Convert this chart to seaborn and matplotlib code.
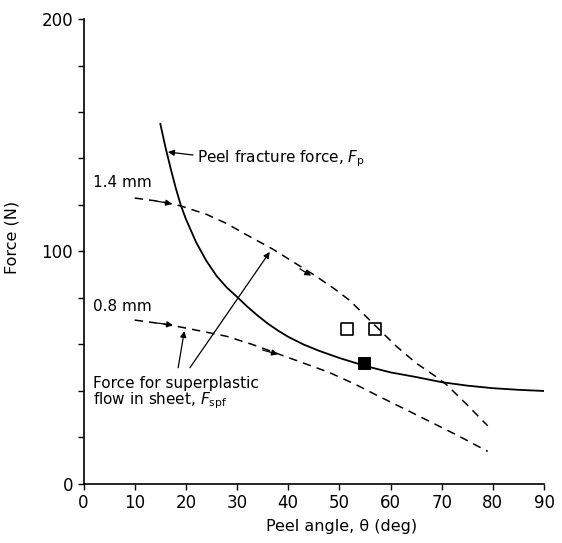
import seaborn as sns
import matplotlib.pyplot as plt

# peel fracture force, F_p (solid curve)
theta_fp = [15, 16, 17, 18, 19, 20, 22, 24, 26, 28, 30, 32, 34, 36, 38, 40, 43, 46,
            50, 55, 60, 65, 70, 75, 80, 85, 90]
force_fp = [155, 145, 136, 127.5, 120, 114, 104, 96, 89.5, 84.5, 80.5, 76.3, 72.5, 69,
            66, 63.3, 60, 57.3, 54.2, 50.8, 48, 46, 43.8, 42.3, 41.2, 40.5, 40]

# force for superplastic flow, 1.4 mm sheet (dashed)
theta_14 = [10, 15, 19, 24, 28, 32, 37, 41, 45, 49, 52, 55, 58, 61, 65, 69, 71, 75, 79]
force_14 = [123, 121.5, 119.6, 116, 112, 107, 101, 95.5, 90, 84, 79, 72.5, 66, 59.5,
            52, 46, 42.6, 34, 25]

# force for superplastic flow, 0.8 mm sheet (dashed)
theta_08 = [10, 15, 19, 24, 28, 33, 38, 43, 48, 53, 58, 63, 68, 73, 79]
force_08 = [70.5, 69, 67.5, 65.3, 63.5, 60, 56, 52, 48, 43, 37.4, 32, 26.5, 21, 14]

# measured points
open_theta = [51.5, 56.9]
open_force = [66.6, 66.6]
filled_theta = [54.8]
filled_force = [52]

x_ticks = list(range(0, 91, 10))
y_ticks = list(range(0, 201, 20))
y_labels = ["0", "", "", "", "", "100", "", "", "", "", "200"]

sns.set_style("ticks")
plt.rcParams["font.family"] = ["DejaVu Sans"]
plt.rcParams["mathtext.fontset"] = "dejavusans"
plt.rcParams["text.color"] = "black"
plt.rcParams["axes.labelcolor"] = "black"

fig = plt.figure(figsize=(5.62, 5.43), dpi=100)
ax = fig.add_axes([0.1486, 0.1087, 0.8194, 0.8563])

sns.lineplot(x=theta_fp, y=force_fp, color="black", lw=1.3, ax=ax)
sns.lineplot(x=theta_14, y=force_14, color="black", lw=1.1, linestyle=(0, (5.5, 4)), ax=ax)
sns.lineplot(x=theta_08, y=force_08, color="black", lw=1.1, linestyle=(0, (5.5, 4)), ax=ax)

sns.scatterplot(x=open_theta, y=open_force, marker="s", s=70, facecolor="white",
                edgecolor="black", linewidth=1.2, ax=ax)
sns.scatterplot(x=filled_theta, y=filled_force, marker="s", s=75, color="black",
                edgecolor="black", ax=ax)

ax.set_xlim(0, 90)
ax.set_ylim(0, 200)
ax.set_xticks(x_ticks)
ax.set_yticks(y_ticks)
ax.set_yticklabels(y_labels)
ax.tick_params(direction="out", length=4, width=1, labelsize=12, colors="black")
for s in ["left", "bottom"]:
    ax.spines[s].set_linewidth(1.2)
    ax.spines[s].set_color("black")
sns.despine(ax=ax)

ax.set_xlabel(r"Peel angle, θ (deg)", fontsize=11.5)
ax.xaxis.set_label_coords(0.56, -0.075)
ax.set_ylabel("Force (N)", fontsize=11.5)
ax.yaxis.set_label_coords(-0.14, 0.53)

# labels
ax.text(22.2, 140, r"Peel fracture force, $F_\mathrm{p}$", fontsize=11, va="center")
ax.text(1.9, 129.5, "1.4 mm", fontsize=11, va="center")
ax.text(1.9, 76.5, "0.8 mm", fontsize=11, va="center")
ax.text(1.9, 39, "Force for superplastic\nflow in sheet, $F_\\mathrm{spf}$", fontsize=11,
        va="center", linespacing=1.0)

arrow = dict(arrowstyle="-|>", color="black", lw=0.9, mutation_scale=9, shrinkA=0, shrinkB=0)

# pointer arrows
ax.annotate("", xy=(16.5, 142.8), xytext=(21.4, 141.5), arrowprops=arrow)
ax.annotate("", xy=(19.7, 65.8), xytext=(18.5, 50), arrowprops=arrow)
ax.annotate("", xy=(36.4, 99.8), xytext=(20.8, 50), arrowprops=arrow)

# direction arrows on the dashed lines
ax.annotate("", xy=(17.3, 120.5), xytext=(14.4, 121.6), arrowprops=arrow)
ax.annotate("", xy=(44.5, 89.6), xytext=(42.3, 92.5), arrowprops=arrow)
ax.annotate("", xy=(17.5, 68.3), xytext=(14.5, 69.2), arrowprops=arrow)
ax.annotate("", xy=(38, 55.8), xytext=(35, 57.6), arrowprops=arrow)

fig.savefig("out.png", dpi=100)
